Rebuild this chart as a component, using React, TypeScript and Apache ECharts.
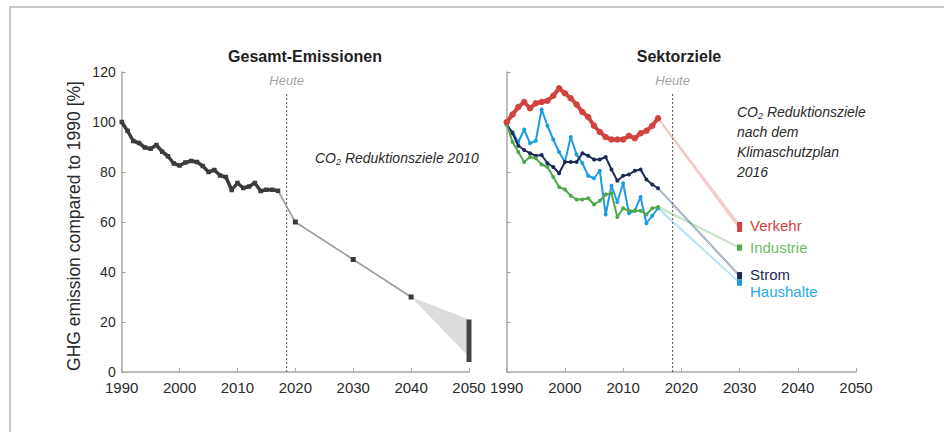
import React, { useEffect, useRef } from "react";
import * as echarts from "echarts";

const FONT = '"Liberation Sans", Arial, sans-serif';

// Gesamt-Emissionen
const totalYears = [1990, 1991, 1992, 1993, 1994, 1995, 1996, 1997, 1998, 1999, 2000, 2001, 2002, 2003, 2004, 2005, 2006, 2007, 2008, 2009, 2010, 2011, 2012, 2013, 2014, 2015, 2016, 2017];
const totalValues = [100, 96.5, 92.4, 91.6, 89.8, 89.3, 90.8, 88.1, 86.3, 83.4, 82.6, 83.8, 84.4, 84.0, 82.4, 80.0, 80.8, 78.6, 78.0, 72.8, 75.6, 73.6, 74.2, 75.6, 72.4, 72.9, 72.9, 72.5];
const projYears = [2017, 2020, 2030, 2040];
const projValues = [72.5, 60, 45, 30];
const wedge2050 = [2040, 30, 2050, 6, 21];
const bar2050 = [2050, 4, 21];

// Sektorziele
const sectorYears = [1990, 1991, 1992, 1993, 1994, 1995, 1996, 1997, 1998, 1999, 2000, 2001, 2002, 2003, 2004, 2005, 2006, 2007, 2008, 2009, 2010, 2011, 2012, 2013, 2014, 2015, 2016];
const verkehr = [100, 103, 106, 108, 105.5, 107.5, 108, 108.5, 110.5, 113.5, 111.5, 109.5, 107, 104, 102, 98.5, 96, 94, 93, 93, 93, 94.5, 93.5, 95.5, 96.5, 98.5, 101.5];
const industrie = [99, 92, 88, 84, 86, 85.5, 83, 82, 78, 74, 73, 70.5, 69, 69, 69.5, 67, 68.5, 71, 71.5, 62, 65.5, 64.5, 64.5, 64.5, 63, 65.5, 66];
const strom = [99, 95.5, 90.5, 88.8, 87.5, 86.5, 86.8, 83.5, 82, 79.5, 84, 84, 84, 87.5, 86.5, 85, 85, 86, 81, 76.5, 78.5, 79, 80.5, 81, 77, 75, 73.5];
const haushalte = [99, 96, 92, 97, 91.5, 92.5, 105, 98.5, 93, 88, 84, 94, 87, 83.5, 78.5, 77.5, 80.5, 63, 74.5, 68, 75.5, 63.5, 64.5, 70, 59.5, 62.5, 65.5];
const sectorNames = ["Verkehr", "Industrie", "Strom", "Haushalte"];
const sectorColors = ["#d2433f", "#4fa84b", "#1b2b55", "#1c9be0"];
const sectorLabelColors = ["#d2433f", "#6cbd68", "#1b2b55", "#2aa6ea"];
const bandColors = ["rgba(228,120,120,0.35)", "rgba(120,190,120,0.3)", "rgba(90,110,145,0.4)", "rgba(90,185,235,0.35)"];
const targetYear = 2030;
const targetLow = [57, 49.5, 38, 35.5];
const targetHigh = [59, 50, 39, 36];

const heuteYear = 2018.5;
const heuteTop = 112;

const zip = (xs: number[], ys: number[]) => xs.map((x, i) => [x, ys[i]]);

export default function App() {
  const ref = useRef<HTMLDivElement>(null);
  useEffect(() => {
    if (!ref.current) return;
    const chart = echarts.init(ref.current, undefined, { renderer: "svg" });
    const sectorData = [verkehr, industrie, strom, haushalte];
    const lastYear = sectorYears[sectorYears.length - 1];

    const xAxisBase = {
      type: "value" as const,
      min: 1990,
      max: 2050,
      interval: 10,
      axisLine: { show: true, lineStyle: { color: "#a8a8a8", width: 1.5 } },
      axisTick: { show: true, inside: true, length: 4, lineStyle: { color: "#a8a8a8", width: 1 } },
      axisLabel: { color: "#2a2a2a", fontSize: 15, lineHeight: 15, margin: 8, fontFamily: FONT, formatter: (v: number) => String(v) },
      splitLine: { show: false },
    };
    const yAxisBase = {
      type: "value" as const,
      min: 0,
      max: 120,
      interval: 20,
      axisLine: { show: true, lineStyle: { color: "#a8a8a8", width: 1.5 } },
      axisTick: { show: true, inside: true, length: 4, lineStyle: { color: "#a8a8a8", width: 1 } },
      splitLine: { show: false },
    };

    const heuteSeries = (idx: number) => [
      {
        type: "line",
        xAxisIndex: idx,
        yAxisIndex: idx,
        data: [[heuteYear, 0], [heuteYear, heuteTop]],
        symbol: "none",
        lineStyle: { color: "#555", width: 1, type: [2, 2] },
        z: 1,
      },
      {
        type: "scatter",
        xAxisIndex: idx,
        yAxisIndex: idx,
        data: [[heuteYear, heuteTop]],
        symbolSize: 1,
        itemStyle: { color: "rgba(0,0,0,0)" },
        label: {
          show: true,
          position: "top",
          distance: 5,
          formatter: "Heute",
          color: "#8a8a8a",
          fontStyle: "italic",
          fontSize: 13,
          fontFamily: FONT,
        },
      },
    ];

    const bandData = sectorData.map((arr, i) => [lastYear, arr[arr.length - 1], targetYear, targetLow[i], targetHigh[i], i]);

    const option: any = {
      animation: false,
      backgroundColor: "#ffffff",
      grid: [
        { left: 121.7, right: 475, top: 72, bottom: 60 },
        { left: 506.7, right: 88, top: 72, bottom: 60 },
      ],
      xAxis: [
        { ...xAxisBase, gridIndex: 0 },
        { ...xAxisBase, gridIndex: 1 },
      ],
      yAxis: [
        { ...yAxisBase, gridIndex: 0, axisLabel: { color: "#2a2a2a", fontSize: 14, lineHeight: 12, margin: 6, fontFamily: FONT } },
        { ...yAxisBase, gridIndex: 1, axisLabel: { show: false } },
      ],
      graphic: [
        {
          type: "rect",
          shape: { x: 10, y: 7, width: 1000, height: 1000 },
          style: { fill: "none", stroke: "#b8b8b8", lineWidth: 1.5 },
          silent: true,
        },
        {
          type: "text",
          x: 305,
          y: 56,
          style: { text: "Gesamt-Emissionen", font: `bold 16px ${FONT}`, fill: "#1e1e1e", align: "center", verticalAlign: "middle" },
        },
        {
          type: "text",
          x: 679,
          y: 56,
          style: { text: "Sektorziele", font: `bold 16px ${FONT}`, fill: "#1e1e1e", align: "center", verticalAlign: "middle" },
        },
        {
          type: "text",
          x: 74,
          y: 226,
          rotation: Math.PI / 2,
          style: { text: "GHG emission compared to 1990 [%]", font: `17.5px ${FONT}`, fill: "#2a2a2a", align: "center", verticalAlign: "middle" },
        },
        {
          type: "text",
          x: 315,
          y: 158,
          style: {
            text: "CO{sub|2} Reduktionsziele 2010",
            font: `italic 14px ${FONT}`,
            fill: "#2a2a2a",
            align: "left",
            verticalAlign: "middle",
            rich: { sub: { fontSize: 9, fontStyle: "italic", fontFamily: FONT, fill: "#2a2a2a", padding: [8, 0, 0, 0] } },
          },
        },
        {
          type: "text",
          x: 737,
          y: 102,
          style: {
            text: "CO{sub|2} Reduktionsziele\nnach dem\nKlimaschutzplan\n2016",
            font: `italic 14px ${FONT}`,
            fill: "#2a2a2a",
            lineHeight: 20,
            align: "left",
            verticalAlign: "top",
            rich: { sub: { fontSize: 9, fontStyle: "italic", fontFamily: FONT, fill: "#2a2a2a", padding: [8, 0, 0, 0] } },
          },
        },
        ...sectorNames.map((name, i) => ({
          type: "text",
          x: 750,
          y: [225, 247, 274, 291][i],
          style: { text: name, font: `15px ${FONT}`, fill: sectorLabelColors[i], align: "left", verticalAlign: "middle" },
        })),
      ],
      series: [
        // wedge 2040-2050
        {
          type: "custom",
          xAxisIndex: 0,
          yAxisIndex: 0,
          data: [wedge2050],
          z: 2,
          renderItem: (params: any, api: any) => {
            const a = api.coord([api.value(0), api.value(1)]);
            const b = api.coord([api.value(2), api.value(4)]);
            const c = api.coord([api.value(2), api.value(3)]);
            return { type: "polygon", shape: { points: [a, b, c] }, style: { fill: "#dcdcdc", stroke: "none" } };
          },
        },
        {
          type: "custom",
          xAxisIndex: 0,
          yAxisIndex: 0,
          data: [bar2050],
          z: 4,
          renderItem: (params: any, api: any) => {
            const a = api.coord([api.value(0), api.value(1)]);
            const b = api.coord([api.value(0), api.value(2)]);
            return { type: "line", shape: { x1: a[0], y1: a[1], x2: b[0], y2: b[1] }, style: { stroke: "#444", lineWidth: 5 } };
          },
        },
        {
          type: "line",
          xAxisIndex: 0,
          yAxisIndex: 0,
          data: zip(projYears, projValues).map((p, i) => (i === 0 ? { value: p, symbol: "none" } : { value: p })),
          symbol: "rect",
          symbolSize: 5,
          itemStyle: { color: "#3a3a3a" },
          lineStyle: { color: "#9c9c9c", width: 1.6 },
          z: 3,
        },
        {
          type: "line",
          xAxisIndex: 0,
          yAxisIndex: 0,
          data: zip(totalYears, totalValues),
          symbol: "rect",
          symbolSize: 4.5,
          itemStyle: { color: "#3c3c3c" },
          lineStyle: { color: "#3c3c3c", width: 3.5 },
          z: 5,
        },
        ...heuteSeries(0),
        ...heuteSeries(1),
        // sector bands to 2030 targets
        {
          type: "custom",
          xAxisIndex: 1,
          yAxisIndex: 1,
          data: bandData,
          z: 2,
          renderItem: (params: any, api: any) => {
            const i = api.value(5);
            const a = api.coord([api.value(0), api.value(1)]);
            const lo = api.coord([api.value(2), api.value(3)]);
            const hi = api.coord([api.value(2), api.value(4)]);
            return {
              type: "group",
              children: [
                {
                  type: "polygon",
                  shape: { points: [[a[0], a[1] - 1], hi, lo, [a[0], a[1] + 1]] },
                  style: { fill: bandColors[i], stroke: bandColors[i], lineWidth: 1 },
                },
                {
                  type: "line",
                  shape: { x1: lo[0], y1: lo[1], x2: hi[0], y2: hi[1] },
                  style: { stroke: sectorColors[i], lineWidth: 5, lineCap: "square" },
                },
              ],
            };
          },
        },
        ...sectorData.map((arr, i) => ({
          type: "line",
          name: sectorNames[i],
          xAxisIndex: 1,
          yAxisIndex: 1,
          data: zip(sectorYears, arr),
          symbol: "circle",
          symbolSize: i === 0 ? 6.5 : 4,
          itemStyle: { color: sectorColors[i] },
          lineStyle: { color: sectorColors[i], width: i === 0 ? 4 : 2 },
          z: i === 0 ? 6 : 5 + (3 - i) * 0.1,
        })),
      ],
    };
    chart.setOption(option);
    return () => chart.dispose();
  }, []);
  return <div ref={ref} style={{ position: "fixed", left: 0, top: 0, width: 944, height: 432 }} />;
}
